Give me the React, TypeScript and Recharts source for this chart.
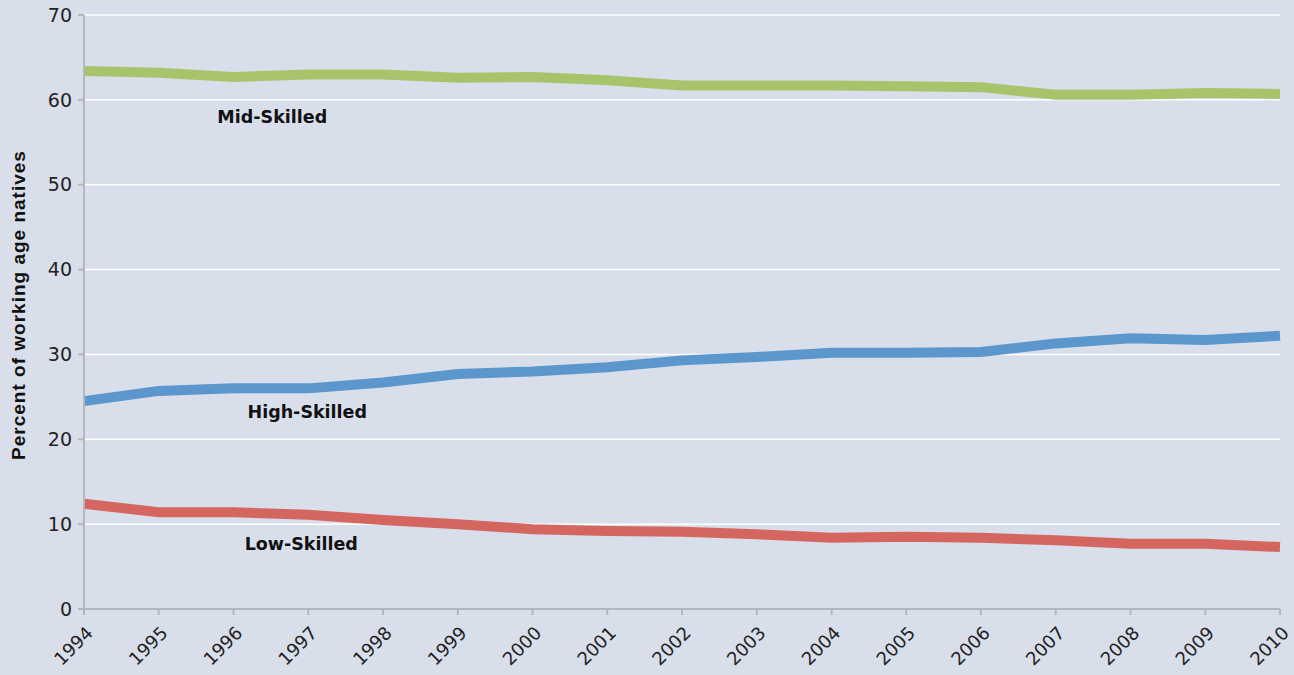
import React from "react";
import {
  LineChart,
  Line,
  XAxis,
  YAxis,
  CartesianGrid,
  ReferenceDot,
} from "recharts";

const years = ["1994", "1995", "1996", "1997", "1998", "1999", "2000", "2001", "2002", "2003", "2004", "2005", "2006", "2007", "2008", "2009", "2010"];
const midSkilled = [63.4, 63.2, 62.7, 63.0, 63.0, 62.6, 62.7, 62.3, 61.7, 61.7, 61.7, 61.6, 61.5, 60.6, 60.6, 60.8, 60.7];
const highSkilled = [24.5, 25.7, 26.0, 26.0, 26.7, 27.7, 28.0, 28.5, 29.3, 29.7, 30.2, 30.2, 30.3, 31.3, 31.9, 31.7, 32.2];
const lowSkilled = [12.4, 11.4, 11.4, 11.1, 10.5, 10.0, 9.4, 9.2, 9.1, 8.8, 8.4, 8.5, 8.4, 8.1, 7.7, 7.7, 7.3];
const yTicks = [0, 10, 20, 30, 40, 50, 60, 70];

const data = years.map((year, i) => ({
  year,
  mid: midSkilled[i],
  high: highSkilled[i],
  low: lowSkilled[i],
}));

const TICK_FONT = "'DejaVu Sans', sans-serif";
const LABEL_FONT = "'DejaVu Sans', sans-serif";
const TITLE_FONT = "'Liberation Sans', Arial, sans-serif";
const BG = "#d9deeb";
const AXIS = "#b3b6bd";

const seriesLabel = (text: string, dx: number) => ({
  value: text,
  position: "center" as const,
  dx,
  fill: "#111",
  fontSize: 17.5,
  fontWeight: 700,
  fontFamily: LABEL_FONT,
});

export default function App() {
  return (
    <div style={{ position: "absolute", left: 0, top: 0, width: 1294, height: 675, background: BG }}>
      <LineChart
        width={1294}
        height={675}
        data={data}
        margin={{ top: 15, right: 14, bottom: 0, left: 0 }}
      >
        <CartesianGrid horizontal vertical={false} stroke="#ffffff" strokeWidth={1.5} />
        <XAxis
          dataKey="year"
          height={66}
          interval={0}
          padding={{ left: 0, right: 0 }}
          stroke={AXIS}
          strokeWidth={2}
          tickSize={6}
          tick={{ fill: "#222", fontSize: 18, fontFamily: TICK_FONT, angle: -45, textAnchor: "end", dx: 1, dy: 8 }}
        />
        <YAxis
          width={84}
          domain={[0, 70]}
          ticks={yTicks}
          interval={0}
          stroke={AXIS}
          strokeWidth={2}
          tickSize={6}
          tickMargin={6}
          tick={{ fill: "#222", fontSize: 19, fontFamily: TICK_FONT }}
          label={{
            value: "Percent of working age natives",
            angle: -90,
            position: "center",
            dx: -24,
            dy: -7,
            fill: "#111",
            fontSize: 19,
            fontWeight: 700,
            letterSpacing: 1,
            fontFamily: TITLE_FONT,
          }}
        />
        <Line dataKey="mid" stroke="#a7c46b" strokeWidth={10} dot={false} isAnimationActive={false} />
        <Line dataKey="high" stroke="#5b96cc" strokeWidth={10} dot={false} isAnimationActive={false} />
        <Line dataKey="low" stroke="#d4665f" strokeWidth={10} dot={false} isAnimationActive={false} />
        <ReferenceDot x="1997" y={58} r={0} fill="none" stroke="none" label={seriesLabel("Mid-Skilled", -36)} />
        <ReferenceDot x="1997" y={23.2} r={0} fill="none" stroke="none" label={seriesLabel("High-Skilled", -1)} />
        <ReferenceDot x="1997" y={7.7} r={0} fill="none" stroke="none" label={seriesLabel("Low-Skilled", -7)} />
      </LineChart>
    </div>
  );
}
